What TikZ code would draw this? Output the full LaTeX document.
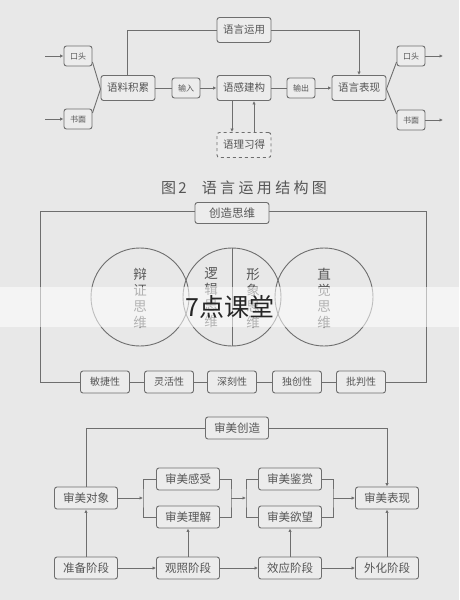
\documentclass[tikz,border=0pt]{standalone}
\usepackage{fontspec}
\setmainfont{Noto Sans CJK SC}
\usetikzlibrary{arrows.meta,positioning}
\definecolor{bgc}{HTML}{E8E8E8}
\definecolor{boxc}{HTML}{ECECEC}
\definecolor{linec}{HTML}{6E6E6E}
\definecolor{txtc}{HTML}{555555}
\tikzset{
  bx/.style={draw=linec,fill=boxc,line width=0.9pt,rounded corners=2.5pt,inner sep=0pt,text=txtc,font=\fontsize{10.5}{12}\selectfont,minimum width=54pt,minimum height=25pt},
  sm/.style={bx,minimum width=28pt,minimum height=20pt,font=\fontsize{8}{10}\selectfont},
  qb/.style={bx,minimum width=49pt,minimum height=22pt,font=\fontsize{10}{12}\selectfont},
  sb/.style={bx,minimum width=63pt,minimum height=22pt,font=\fontsize{11.5}{13}\selectfont},
  ring/.style={circle,draw=linec,line width=0.9pt,minimum size=98pt,inner sep=0pt},
  vt/.style={text=txtc,align=center,font=\fontsize{13.5}{16}\selectfont},
  ln/.style={draw=linec,line width=0.9pt},
  ar/.style={ln,-{Latex[length=3.5pt,width=3.5pt]}},
}

\begin{document}
\begin{tikzpicture}[x=1pt,y=-1pt]
  \fill[bgc] (0,0) rectangle (459,600);

  % top: language use
  \node[bx] (use) at (244,30){语言运用};
  \node[sm] (oralL) at (78,56){口头};
  \node[sm] (writL) at (78,119){书面};
  \node[bx] (acc) at (128,88){语料积累};
  \node[sm] (inp) at (186,88){输入};
  \node[bx] (build) at (244,88){语感建构};
  \node[sm] (outp) at (301,88){输出};
  \node[bx] (expr) at (359,88){语言表现};
  \node[sm] (oralR) at (411,56){口头};
  \node[sm] (writR) at (411,120){书面};
  \node[bx,dashed] (learn) at (244,145){语理习得};
  \coordinate (inA) at (45,56);
  \coordinate (inB) at (45,119);
  \coordinate (outA) at (443,56);
  \coordinate (outB) at (443,120);
  \draw[ar] (inA) -- (oralL);
  \draw[ar] (inB) -- (writL);
  \draw[ln] ([yshift=-6pt]oralL.east) -- ([yshift=-1pt]acc.west);
  \draw[ln] ([yshift=6pt]writL.east) -- ([yshift=-1pt]acc.west);
  \draw[ln] ([xshift=-1pt]acc.north) |- (use.west);
  \draw[ar] (use.east) -| (expr.north);
  \draw[ln] (acc) -- (inp);
  \draw[ar] (inp) -- (build);
  \draw[ln] (build) -- (outp);
  \draw[ar] (outp) -- (expr);
  \draw[ar] ([xshift=-12pt]build.south) -- ([xshift=-12pt]learn.north);
  \draw[ar] ([xshift=10pt]learn.north) -- ([xshift=10pt]build.south);
  \draw[ln] ([yshift=-1pt]expr.east) -- ([yshift=-6pt]oralR.west);
  \draw[ln] ([yshift=-1pt]expr.east) -- ([yshift=6pt]writR.west);
  \draw[ar] (oralR) -- (outA);
  \draw[ar] (writR) -- (outB);
  \node[text=txtc,font=\fontsize{15}{17}\selectfont] (cap) at (244,188){图\,2\quad 语 言 运 用 结 构 图};

  % middle: creative thinking
  \coordinate (tl) at (40,211);
  \coordinate (bl) at (40,382);
  \coordinate (br) at (426,382);
  \coordinate (tr) at (426,211);
  \node[qb] (q1) at (105,382){敏捷性};
  \node[qb] (q2) at (169,382){灵活性};
  \node[qb] (q3) at (232,382){深刻性};
  \node[qb] (q4) at (297,382){独创性};
  \node[qb] (q5) at (361,382){批判性};
  \draw[ln] (q1.west) -- (bl) -- (tl) -- (232,211);
  \draw[ln] (q5.east) -- (br) -- (tr) -- (232,211);
  \draw[ln] (q1) -- (q2);
  \draw[ln] (q2) -- (q3);
  \draw[ln] (q3) -- (q4);
  \draw[ln] (q4) -- (q5);
  \node[bx,minimum width=74pt,minimum height=21pt,font=\fontsize{11.5}{13}\selectfont] (think) at (232,213){创造思维};
  \node[ring] (c1) at (140,297){};
  \node[ring] (c2) at (232,297){};
  \node[ring] (c3) at (324,297){};
  \draw[ln] (c2.north) -- (c2.south);
  \node[vt] (t1) at (140,298){辩\\证\\思\\维};
  \node[vt] (t2) at (211,298){逻\\辑\\思\\维};
  \node[vt] (t3) at (253,298){形\\象\\思\\维};
  \node[vt] (t4) at (324,298){直\\觉\\思\\维};

  % watermark band
  \fill[white,opacity=0.55] (0,287) rectangle (459,327);
  \node[text=black!85,font=\fontsize{25}{27}\selectfont] (mark) at (230,307){7点课堂};

  % bottom: aesthetic creation
  \node[sb] (make) at (237,428){审美创造};
  \node[sb] (obj) at (86,498){审美对象};
  \node[sb] (feel) at (188,479){审美感受};
  \node[sb] (know) at (188,517){审美理解};
  \node[sb] (appr) at (290,479){审美鉴赏};
  \node[sb] (wish) at (290,517){审美欲望};
  \node[sb] (show) at (387,498){审美表现};
  \node[sb] (s1) at (86,568){准备阶段};
  \node[sb] (s2) at (188,568){观照阶段};
  \node[sb] (s3) at (290,568){效应阶段};
  \node[sb] (s4) at (387,568){外化阶段};
  \coordinate (j1) at (143,498);
  \coordinate (j2) at (231,498);
  \coordinate (j3) at (246,498);
  \coordinate (j4) at (333,498);
  \draw[ln] (obj.north) |- (make.west);
  \draw[ar] (make.east) -| (show.north);
  \draw[ar] (obj.east) -- (j1);
  \draw[ln] (feel.west) -| (j1) |- (know.west);
  \draw[ln] (feel.east) -| (j2) |- (know.east);
  \draw[ar] (j2) -- (j3);
  \draw[ln] (appr.west) -| (j3) |- (wish.west);
  \draw[ln] (appr.east) -| (j4) |- (wish.east);
  \draw[ar] (j4) -- (show.west);
  \draw[ar] (s1) -- (obj);
  \draw[ar] (s2) -- (know);
  \draw[ar] (s3) -- (wish);
  \draw[ar] (s4) -- (show);
  \draw[ar] (s1) -- (s2);
  \draw[ar] (s2) -- (s3);
  \draw[ar] (s3) -- (s4);
\end{tikzpicture}
\end{document}
